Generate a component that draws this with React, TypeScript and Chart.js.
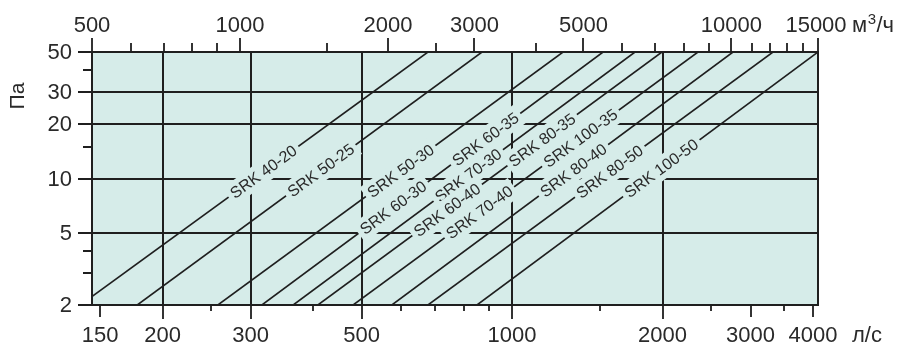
import React, { useEffect, useRef } from 'react';
import { Chart, registerables } from 'chart.js';

Chart.register(...registerables);

// Each SRK curve: air flow (l/s) read at 2 Pa and at 50 Pa
const flowAt2Pa = [137, 178, 258, 316, 365, 409, 481, 575, 679, 851];
const flowAt50Pa = [679, 871, 1265, 1521, 1762, 1995, 2355, 2767, 3327, 4093];

// Curve labels, the curve each one sits on, and the pressure (Pa) at its centre
const curveLabels = [
  'SRK 40-20', 'SRK 50-25', 'SRK 50-30', 'SRK 60-30', 'SRK 60-35', 'SRK 70-30',
  'SRK 60-40', 'SRK 80-35', 'SRK 70-40', 'SRK 100-35', 'SRK 80-40', 'SRK 80-50', 'SRK 100-50',
];
const labelCurve = [0, 1, 2, 3, 3, 4, 5, 5, 6, 6, 7, 8, 9];
const labelPressure = [10.9, 11.1, 11, 6.9, 16.5, 10.4, 6.7, 16.3, 6.5, 16.7, 11.1, 10.9, 11.4];

// Bottom axis (l/s)
const flowMin = 144.5;
const flowMax = 4093;
const bottomTickLabels = [150, 200, 300, 500, 1000, 2000, 3000, 4000];
const bottomLongTicks = [200, 300, 500, 1000, 2000];
const bottomMediumTicks = [150, 3000, 4000];
const bottomMinorTicks = [250, 400, 600, 700, 800, 900, 1500, 2500, 3500];

// Top axis (m3/h)
const topMin = 500;
const topMax = 15000;
const topTickLabels = [500, 1000, 2000, 3000, 5000, 10000, 15000];
const topMinorTicks = [600, 700, 800, 900, 1500, 2500, 4000, 6000, 7000, 8000, 9000, 11000, 12000, 13000, 14000];

// Pressure axis (Pa)
const pressureMin = 2;
const pressureMax = 50;
const yTickLabels = [2, 5, 10, 20, 30, 50];
const yMinorTicks = [3, 4, 15, 40];
const gridPressures = [5, 10, 20, 30];
const gridFlows = [200, 300, 500, 1000, 2000];

const FONT = '"Liberation Sans", Arial, Helvetica, sans-serif';
const INK = '#1f1f1f';
const TEXT = '#2a2a2a';
const BG = '#d6ece9';

const nomogramPlugin = {
  id: 'nomogram',
  beforeDatasetsDraw(chart: any) {
    const { ctx, chartArea: a, scales } = chart;
    const x = scales.x;
    const y = scales.y;
    ctx.save();
    ctx.fillStyle = BG;
    ctx.fillRect(a.left, a.top, a.right - a.left, a.bottom - a.top);
    ctx.strokeStyle = INK;
    ctx.lineWidth = 2;
    ctx.beginPath();
    gridFlows.forEach((v) => {
      const px = Math.round(x.getPixelForValue(v));
      ctx.moveTo(px, a.top);
      ctx.lineTo(px, a.bottom);
    });
    gridPressures.forEach((v) => {
      const py = Math.round(y.getPixelForValue(v));
      ctx.moveTo(a.left, py);
      ctx.lineTo(a.right, py);
    });
    ctx.stroke();
    ctx.restore();
  },
  afterDatasetsDraw(chart: any) {
    const { ctx, chartArea: a, scales } = chart;
    const x = scales.x;
    const y = scales.y;
    const x2 = scales.x2;
    ctx.save();

    // curve labels with a gap cut in the lines
    ctx.font = `16px ${FONT}`;
    labelCurve.forEach((ci, i) => {
      const text = curveLabels[i];
      const xa = x.getPixelForValue(flowAt2Pa[ci]);
      const ya = y.getPixelForValue(pressureMin);
      const xb = x.getPixelForValue(flowAt50Pa[ci]);
      const yb = y.getPixelForValue(pressureMax);
      const py = y.getPixelForValue(labelPressure[i]);
      const t = (py - ya) / (yb - ya);
      const px = xa + t * (xb - xa);
      const ang = Math.atan2(yb - ya, xb - xa);
      ctx.save();
      ctx.translate(px, py);
      ctx.rotate(ang);
      const w = ctx.measureText(text).width;
      ctx.fillStyle = BG;
      ctx.fillRect(-w / 2 - 4, -11, w + 8, 22);
      ctx.fillStyle = TEXT;
      ctx.textAlign = 'center';
      ctx.textBaseline = 'middle';
      ctx.fillText(text, 0, 1);
      ctx.restore();
    });

    // border
    ctx.strokeStyle = INK;
    ctx.lineWidth = 2;
    ctx.strokeRect(a.left, a.top, a.right - a.left, a.bottom - a.top);

    // ticks
    ctx.lineWidth = 1.8;
    ctx.beginPath();
    const vt = (px: number, y0: number, y1: number) => {
      const r = Math.round(px);
      ctx.moveTo(r, y0);
      ctx.lineTo(r, y1);
    };
    bottomLongTicks.forEach((v) => vt(x.getPixelForValue(v), a.bottom, a.bottom + 14));
    bottomMediumTicks.forEach((v) => vt(x.getPixelForValue(v), a.bottom, a.bottom + 12));
    bottomMinorTicks.forEach((v) => vt(x.getPixelForValue(v), a.bottom, a.bottom + 6));
    topTickLabels.forEach((v) => vt(x2.getPixelForValue(v), a.top, a.top - 14));
    topMinorTicks.forEach((v) => vt(x2.getPixelForValue(v), a.top, a.top - 9));
    yTickLabels.forEach((v) => {
      const py = Math.round(y.getPixelForValue(v));
      ctx.moveTo(a.left - 14, py);
      ctx.lineTo(a.left, py);
    });
    yMinorTicks.forEach((v) => {
      const py = Math.round(y.getPixelForValue(v));
      ctx.moveTo(a.left - 9, py);
      ctx.lineTo(a.left, py);
    });
    ctx.stroke();

    // tick labels
    ctx.fillStyle = TEXT;
    ctx.font = `22px ${FONT}`;
    ctx.textAlign = 'center';
    ctx.textBaseline = 'alphabetic';
    bottomTickLabels.forEach((v) => ctx.fillText(String(v), x.getPixelForValue(v), 342));
    topTickLabels.forEach((v) => {
      const px = Math.min(x2.getPixelForValue(v), a.right - 2);
      ctx.fillText(String(v), px, 32);
    });
    ctx.textAlign = 'right';
    ctx.textBaseline = 'middle';
    yTickLabels.forEach((v) => ctx.fillText(String(v), 72, y.getPixelForValue(v) + 1));

    // units
    ctx.textAlign = 'left';
    ctx.textBaseline = 'alphabetic';
    let ux = 852;
    ctx.fillText('м', ux, 32);
    ux += ctx.measureText('м').width + 0.5;
    ctx.font = `15px ${FONT}`;
    ctx.fillText('3', ux, 24);
    ux += ctx.measureText('3').width + 0.5;
    ctx.font = `22px ${FONT}`;
    ctx.fillText('/ч', ux, 32);
    ctx.fillText('л/с', 852, 342);

    // axis title
    ctx.save();
    ctx.translate(18, 96);
    ctx.rotate(-Math.PI / 2);
    ctx.textAlign = 'center';
    ctx.textBaseline = 'middle';
    ctx.font = `21px ${FONT}`;
    ctx.fillText('Па', 0, 0);
    ctx.restore();

    ctx.restore();
  },
};

export default function App() {
  const canvasRef = useRef<HTMLCanvasElement | null>(null);

  useEffect(() => {
    const canvas = canvasRef.current;
    if (!canvas) return;
    const datasets = flowAt2Pa.map((q, i) => ({
      data: [
        { x: q, y: pressureMin },
        { x: flowAt50Pa[i], y: pressureMax },
      ],
      showLine: true,
      borderColor: INK,
      borderWidth: 1.6,
      pointRadius: 0,
      fill: false,
    }));
    const chart = new Chart(canvas, {
      type: 'scatter',
      data: { datasets },
      options: {
        responsive: false,
        animation: false,
        devicePixelRatio: 1,
        events: [],
        layout: { padding: { left: 92, right: 99, top: 52, bottom: 41 } },
        plugins: { legend: { display: false }, tooltip: { enabled: false } },
        scales: {
          x: { type: 'logarithmic', min: flowMin, max: flowMax, display: false },
          y: { type: 'logarithmic', min: pressureMin, max: pressureMax, display: false },
          x2: { type: 'logarithmic', position: 'top', min: topMin, max: topMax, display: false },
        },
      },
      plugins: [nomogramPlugin],
    } as any);
    return () => chart.destroy();
  }, []);

  return (
    <div style={{ position: 'fixed', left: 0, top: 0, width: 917, height: 346, background: '#fff' }}>
      <canvas ref={canvasRef} width={917} height={346} style={{ display: 'block' }} />
    </div>
  );
}
